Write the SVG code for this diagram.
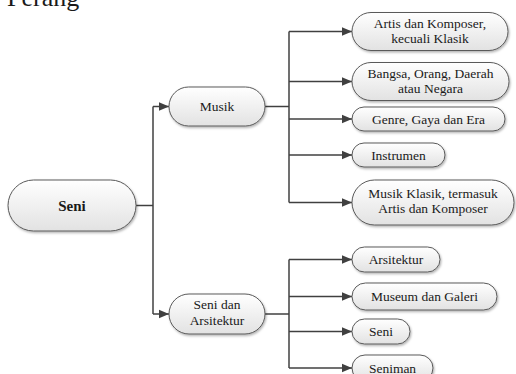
<svg xmlns="http://www.w3.org/2000/svg" width="516" height="374" viewBox="0 0 516 374" font-family="'Liberation Serif', 'Times New Roman', serif">
<defs>
<linearGradient id="g" x1="0" y1="0" x2="0" y2="1">
<stop offset="0" stop-color="#ffffff"/>
<stop offset="1" stop-color="#e2e2e2"/>
</linearGradient>
<filter id="sh" x="-10%" y="-20%" width="125%" height="150%">
<feDropShadow dx="1" dy="1.5" stdDeviation="0.8" flood-color="#000" flood-opacity="0.3"/>
</filter>
<marker id="ah" viewBox="0 0 10 10" refX="10" refY="5" markerWidth="10" markerHeight="10" markerUnits="userSpaceOnUse" orient="auto">
<path d="M0,0.8 L10,5 L0,9.2 Z" fill="#404040"/>
</marker>
<style>
.n{fill:url(#g);stroke:#5a5a5a;stroke-width:1;filter:url(#sh)}
.t{font-family:'Liberation Serif',serif;font-size:13.5px;fill:#1a1a1a;text-anchor:middle}
.b{font-weight:bold;font-size:15px}
.c{fill:none;stroke:#404040;stroke-width:1.5}
.a{marker-end:url(#ah)}
</style>
</defs>
<text x="7" y="6" font-family="'Liberation Serif', serif" font-size="26" fill="#1a1a1a">Perang</text>
<g id="connectors">
<path class="c" d="M136,205.5 H153"/>
<path class="c" d="M153,314 V106.5"/>
<path class="c a" d="M153,106.5 H169"/>
<path class="c a" d="M153,314 H169"/>
<path class="c" d="M265,106.5 H289"/>
<path class="c" d="M289,31.5 V202.5"/>
<path class="c a" d="M289,31.5 H352"/>
<path class="c a" d="M289,81.5 H352"/>
<path class="c a" d="M289,119 H352"/>
<path class="c a" d="M289,155 H352"/>
<path class="c a" d="M289,202.5 H352"/>
<path class="c" d="M265,314 H289"/>
<path class="c" d="M289,259.5 V368"/>
<path class="c a" d="M289,259.5 H352"/>
<path class="c a" d="M289,296.5 H352"/>
<path class="c a" d="M289,331.5 H352"/>
<path class="c a" d="M289,368 H352"/>
</g>
<g id="seni"><rect class="n" x="8" y="180" width="128" height="51" rx="25.5"/><text class="t b" x="72" y="211">Seni</text></g>
<g id="musik"><rect class="n" x="169" y="87" width="96" height="39" rx="19.5"/><text class="t" x="217" y="111">Musik</text></g>
<g id="seni-arsitektur"><rect class="n" x="169" y="294" width="96" height="40" rx="20"/><text class="t" x="217" y="309">Seni dan</text><text class="t" x="217" y="325">Arsitektur</text></g>
<g id="artis"><rect class="n" x="352" y="12.5" width="156" height="38" rx="19"/><text class="t" x="430" y="28">Artis dan Komposer,</text><text class="t" x="430" y="43">kecuali Klasik</text></g>
<g id="bangsa"><rect class="n" x="352" y="62.5" width="157" height="38" rx="19"/><text class="t" x="430.5" y="78">Bangsa, Orang, Daerah</text><text class="t" x="430.5" y="93">atau Negara</text></g>
<g id="genre"><rect class="n" x="352" y="107" width="153" height="24" rx="12"/><text class="t" x="428.5" y="123.5">Genre, Gaya dan Era</text></g>
<g id="instrumen"><rect class="n" x="352" y="143" width="93" height="24" rx="12"/><text class="t" x="398.5" y="159.5">Instrumen</text></g>
<g id="musik-klasik"><rect class="n" x="352" y="180" width="162" height="45" rx="22.5"/><text class="t" x="433" y="198">Musik Klasik, termasuk</text><text class="t" x="433" y="213">Artis dan Komposer</text></g>
<g id="arsitektur"><rect class="n" x="352" y="247" width="88" height="25" rx="12.5"/><text class="t" x="396" y="264">Arsitektur</text></g>
<g id="museum"><rect class="n" x="352" y="283" width="145" height="27" rx="13.5"/><text class="t" x="424.5" y="301">Museum dan Galeri</text></g>
<g id="seni2"><rect class="n" x="352" y="319" width="58" height="25" rx="12.5"/><text class="t" x="381" y="336">Seni</text></g>
<g id="seniman"><rect class="n" x="352" y="355" width="81" height="26" rx="13"/><text class="t" x="392.5" y="372.5">Seniman</text></g>
</svg>
